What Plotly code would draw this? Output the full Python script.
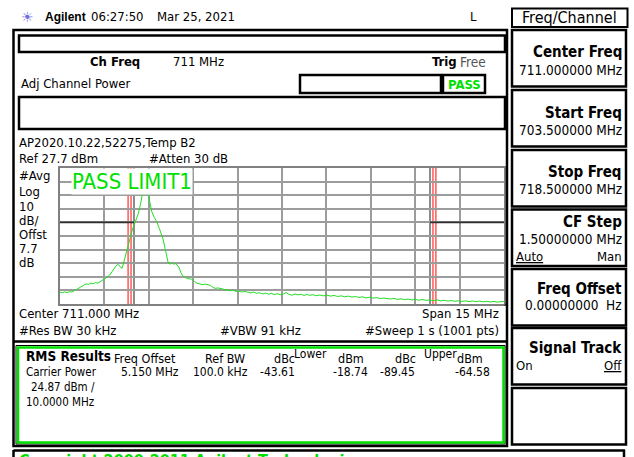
import plotly.graph_objects as go

# ---------------- data ----------------
freq_mhz = [703.50, 703.58, 703.66, 703.74, 703.82, 703.90, 703.98, 704.06, 704.14, 704.22,
            704.30, 704.38, 704.46, 704.54, 704.62, 704.70, 704.78, 704.86, 704.94, 705.02,
            705.10, 705.18, 705.26, 705.32, 705.38, 705.44, 705.50, 705.56, 705.60, 705.65,
            705.70, 705.76, 705.81, 705.88, 705.94, 705.98, 706.06, 706.15, 706.22, 706.29,
            706.34, 706.39, 706.44, 706.48, 706.54, 706.60, 706.68, 706.77, 706.86, 706.94,
            706.99, 707.05, 707.10, 707.16, 707.22, 707.28, 707.34, 707.40, 707.46, 707.52,
            707.58, 707.63, 707.70, 707.78, 707.86, 707.94, 708.02, 708.10, 708.20, 708.30,
            708.40, 708.50, 708.58, 708.66, 708.74, 708.84, 708.94, 709.04, 709.13, 709.24,
            709.34, 709.44, 709.54, 709.64, 709.74, 709.84, 709.94, 710.04, 710.14, 710.24,
            710.34, 710.44, 710.54, 710.64, 710.74, 710.84, 710.94, 711.04, 711.14, 711.24,
            711.34, 711.44, 711.54, 711.64, 711.74, 711.84, 711.94, 712.04, 712.14, 712.28,
            712.40, 712.52, 712.64, 712.76, 712.88, 713.00, 713.12, 713.24, 713.36, 713.48,
            713.60, 713.72, 713.84, 713.96, 714.08, 714.20, 714.32, 714.44, 714.54, 714.66,
            714.78, 714.90, 715.02, 715.14, 715.26, 715.38, 715.50, 715.62, 715.74, 715.86,
            716.00, 716.12, 716.24, 716.36, 716.48, 716.60, 716.72, 716.84, 716.96, 717.08,
            717.20, 717.32, 717.44, 717.56, 717.68, 717.80, 717.92, 718.04, 718.16, 718.28,
            718.40, 718.50]
level_dbm = [-63.6, -64.0, -63.4, -63.9, -63.2, -63.5, -62.6, -61.5, -60.3, -59.2,
             -58.4, -57.5, -57.9, -56.9, -57.4, -56.6, -56.9, -55.6, -54.4, -53.6,
             -52.4, -51.0, -48.5, -46.0, -44.6, -43.3, -43.8, -45.6, -46.0, -42.0,
             -37.5, -32.0, -27.7, -22.5, -18.0, -15.5, -10.5, -5.6, 1.0, 9.1,
             17.0, 22.0, 17.5, 9.1, 2.0, -4.4, -8.5, -11.8, -17.0, -22.0,
             -25.2, -31.5, -37.5, -42.4, -42.9, -42.1, -43.0, -42.6, -43.6, -45.5,
             -49.0, -51.0, -52.6, -53.3, -53.8, -54.0, -55.0, -56.8, -57.4, -58.0,
             -57.7, -58.4, -58.6, -60.0, -60.8, -60.5, -61.2, -61.6, -62.0, -62.6,
             -62.2, -63.0, -62.8, -63.5, -63.1, -63.6, -64.2, -63.5, -64.4, -64.0,
             -64.9, -64.3, -65.1, -64.5, -65.4, -64.7, -65.5, -65.0, -63.9, -65.3,
             -65.8, -64.9, -65.6, -65.1, -66.0, -65.3, -65.9, -65.4, -66.2, -65.7,
             -66.3, -65.8, -66.5, -66.0, -66.8, -66.3, -67.0, -66.5, -67.2, -66.8,
             -67.5, -67.0, -67.8, -67.3, -68.0, -67.6, -68.3, -67.9, -68.1, -68.6,
             -68.2, -68.9, -68.5, -69.1, -68.7, -69.3, -68.9, -69.5, -69.0, -69.6,
             -69.4, -69.8, -69.3, -70.0, -69.6, -70.2, -69.7, -70.3, -69.9, -70.4,
             -70.0, -70.5, -70.1, -70.6, -70.2, -70.7, -70.3, -70.8, -70.4, -70.9,
             -70.5, -70.6]

start_freq = 703.5
stop_freq = 718.5
freq_div = 1.5
ref_level = 27.7
db_div = 10
limit_level = -12.3
channel_edges = [706.0, 716.0]
adj_edges = [705.8, 705.9, 716.1, 716.2]

results_header = ["Freq Offset", "Ref BW", "dBc", "dBm", "dBc", "dBm"]
results_row = ["5.150 MHz", "100.0 kHz", "-43.61", "-18.74", "-89.45", "-64.58"]

softkey_titles = ["Center Freq", "Start Freq", "Stop Freq", "CF Step", "Freq Offset",
                  "Signal Track", ""]
softkey_values = ["711.000000 MHz", "703.500000 MHz", "718.500000 MHz", "1.50000000 MHz",
                  "0.00000000  Hz", "", ""]

# ---------------- figure ----------------
W, H = 634, 457
FONT = "DejaVu Sans Condensed, Liberation Sans Narrow, sans-serif"
GREEN = "#00e000"


def PX(x):
    return x / W


def PY(y):
    return 1 - y / H


fig = go.Figure()
fig.add_trace(go.Scatter(x=freq_mhz, y=level_dbm, mode="lines",
                         line=dict(color="#22dd22", width=1), hoverinfo="skip",
                         showlegend=False))

shapes = []
annotations = []


def rect(x0, y0, x1, y1, color="black", width=2, fill=None, layer="above"):
    shapes.append(dict(type="rect", xref="paper", yref="paper",
                       x0=PX(x0), y0=PY(y0), x1=PX(x1), y1=PY(y1),
                       line=dict(color=color, width=width),
                       fillcolor=fill if fill else "rgba(0,0,0,0)", layer=layer))


def line(x0, y0, x1, y1, color="black", width=2):
    shapes.append(dict(type="line", xref="paper", yref="paper",
                       x0=PX(x0), x1=PX(x1), y0=PY(y0), y1=PY(y1),
                       line=dict(color=color, width=width)))


def txt(x, y, s, size=12.5, color="black", xanchor="left", bold=False, family=FONT,
        bg=None, yanchor="middle"):
    if bold:
        s = "<b>" + s + "</b>"
    a = dict(x=PX(x), y=PY(y), xref="paper", yref="paper", text=s, showarrow=False,
             xanchor=xanchor, yanchor=yanchor,
             font=dict(size=size, color=color, family=family))
    if bg:
        a["bgcolor"] = bg
        a["borderpad"] = 0
    annotations.append(a)


# data-driven marker lines on the spectrum axes
for f in channel_edges:
    shapes.append(dict(type="line", xref="x", yref="y", x0=f, x1=f,
                       y0=ref_level - 10 * db_div, y1=ref_level,
                       line=dict(color="#404040", width=1.2), layer="below"))
for f in adj_edges:
    shapes.append(dict(type="line", xref="x", yref="y", x0=f, x1=f,
                       y0=ref_level - 10 * db_div, y1=ref_level,
                       line=dict(color="#ff3030", width=1.2), layer="below"))
shapes.append(dict(type="line", xref="x", yref="y", x0=start_freq, x1=channel_edges[0],
                   y0=limit_level, y1=limit_level, line=dict(color="#303030", width=1.8)))
shapes.append(dict(type="line", xref="x", yref="y", x0=channel_edges[1], x1=stop_freq,
                   y0=limit_level, y1=limit_level, line=dict(color="#303030", width=1.8)))

# ---------- top bar ----------
txt(27, 17, "☀", size=14, color="#6f6fe0", xanchor="center", family="DejaVu Sans")
txt(43, 17, "Agilent", size=12, bold=True, family="Liberation Sans, Arial, sans-serif")
txt(89, 17, "06:27:50", size=13)
txt(155, 17, "Mar 25, 2021", size=13)
txt(468, 17, "L", size=13)

# ---------- main panel ----------
rect(13.5, 30, 507, 446, width=2.5)
rect(19, 35.5, 505, 52, width=2.5)
txt(88, 62, "Ch Freq", size=13, bold=True)
txt(171, 62, "711 MHz", size=13)
txt(430, 62, "Trig", size=13, bold=True)
txt(458, 62, "Free", size=13.5, color="#555555")
txt(19, 83, "Adj Channel Power", size=13)
rect(300, 75, 441, 93, width=2.5)
rect(443, 75, 485, 93, width=2.5)
txt(464, 84, "PASS", size=13, bold=True, color=GREEN, xanchor="center")
rect(19, 97, 505, 129, width=2.5)
txt(17, 142, "AP2020.10.22,52275,Temp B2", size=13)
txt(17, 158, "Ref 27.7 dBm", size=13)
txt(147, 158, "#Atten 30 dB", size=13)
for yy, s in zip([175, 191, 206, 220, 234, 248, 262],
                 ["#Avg", "Log", "10", "dB/", "Offst", "7.7", "dB"]):
    txt(17, yy, s, size=13)
txt(132, 181.5, "PASS LIMIT1", size=22, color=GREEN, xanchor="center", bg="white",
    family="Liberation Sans Narrow, DejaVu Sans Condensed, sans-serif")
txt(17, 313, "Center 711.000 MHz", size=13)
txt(501, 313, "Span 15 MHz", size=13, xanchor="right")
txt(501, 307, "^", size=8, xanchor="left")
txt(17, 330, "#Res BW 30 kHz", size=13)
txt(218, 330, "#VBW 91 kHz", size=13)
txt(501, 330, "#Sweep 1 s (1001 pts)", size=13, xanchor="right")
line(13.5, 341.5, 507, 341.5, width=2.5)

# results box
rect(16, 345.5, 505, 444, color="black", width=1)
rect(18, 347.5, 503.5, 442.5, color=GREEN, width=2.5)
txt(24, 356, "RMS Results", size=13.5, bold=True)
hx = [112, 203, 272, 336, 393, 455]
for x, s in zip(hx, results_header):
    txt(x, 358.5, s, size=12.5)
txt(292, 354, "Lower", size=12)
txt(422, 354, "Upper", size=12)
txt(24, 372, "Carrier Power", size=11.5)
rx = [181, 250, 297, 370, 417, 492]
for x, s in zip(rx, results_row):
    txt(x, 372, s, size=12, xanchor="right")
txt(29, 387, "24.87 dBm /", size=11.5)
txt(24, 402, "10.0000 MHz", size=11.5)

# bottom copyright strip
line(13.5, 450.5, 625, 450.5, width=2.5)
line(13.5, 450, 13.5, 457, width=2.5)
line(624, 450, 624, 457, width=2.5)
txt(17, 449, "Copyright 2000-2011 Agilent Technologies", size=16, color=GREEN,
    yanchor="top", bold=True)

# ---------- softkeys ----------
rect(512, 8.5, 627.5, 27, width=2)
txt(569.5, 18, "Freq/Channel", size=16, xanchor="center")
tops = [30, 90, 150, 209.5, 269, 328, 388]
title_y = [52, 113, 172, 222, 289, 348, None]
value_y = [70, 130, 189, 239, 305, None, None]
for i, top in enumerate(tops):
    rect(512, top, 626, top + 56.5, width=2.5)
    if softkey_titles[i]:
        txt(624, title_y[i], softkey_titles[i], size=15, bold=True, xanchor="right")
    if softkey_values[i]:
        txt(624, value_y[i], softkey_values[i], size=13.5, xanchor="right")
txt(514, 256, "<u>Auto</u>", size=13)
txt(624, 256, "Man", size=13, xanchor="right")
txt(514, 365, "On", size=13)
txt(624, 365, "<u>Off</u>", size=13, xanchor="right")

fig.update_layout(
    width=W, height=H, margin=dict(l=0, r=0, t=0, b=0),
    paper_bgcolor="white", plot_bgcolor="white",
    showlegend=False, shapes=shapes, annotations=annotations,
    xaxis=dict(domain=[60 / W, 504 / W], range=[start_freq, stop_freq],
               tick0=start_freq, dtick=freq_div, showticklabels=False, ticks="",
               showgrid=True, gridcolor="#9c9c9c", gridwidth=1.5, zeroline=False,
               showline=True, mirror=True, linecolor="#808080", linewidth=2,
               fixedrange=True),
    yaxis=dict(domain=[1 - 304 / H, 1 - 168 / H],
               range=[ref_level - 10 * db_div, ref_level],
               tick0=ref_level, dtick=db_div, showticklabels=False, ticks="",
               showgrid=True, gridcolor="#9c9c9c", gridwidth=1.5, zeroline=False,
               showline=True, mirror=True, linecolor="#808080", linewidth=2,
               fixedrange=True),
)

fig.write_html("out.html", config={"displayModeBar": False},
               post_script="document.body.style.margin='0';")
